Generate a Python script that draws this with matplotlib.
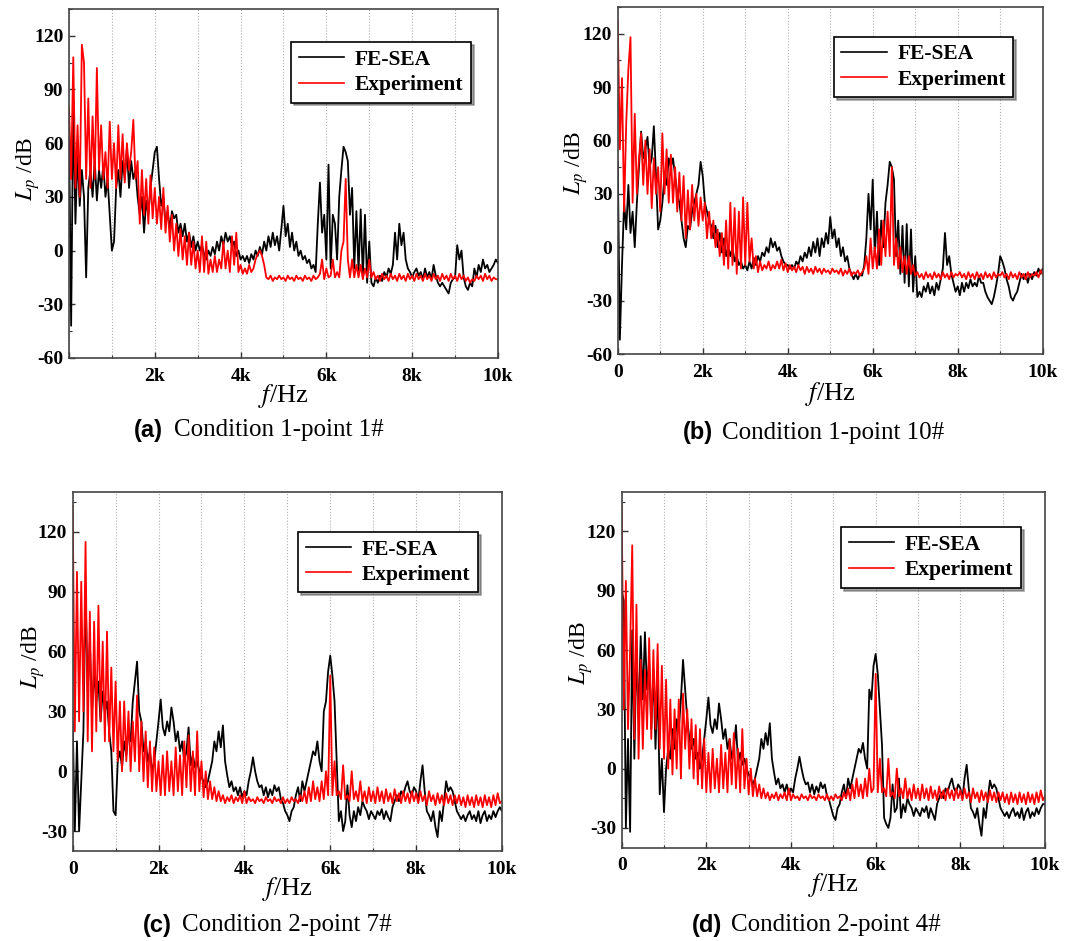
import numpy as np
import matplotlib
matplotlib.use("Agg")
import matplotlib.pyplot as plt
from matplotlib.ticker import MultipleLocator

plt.rcParams['font.family'] = ['Liberation Serif', 'DejaVu Serif']
plt.rcParams['mathtext.fontset'] = 'stix'
plt.rcParams['axes.unicode_minus'] = False

# frequency sampling of the read-off spectra (Hz), one value every 50 Hz
freq = np.arange(0, 10001, 50)

# (a) Condition 1-point 1#
fe_a = [70, -42, 85, 15, 55, 25, 45, 30, -15, 35, 45, 30, 50, 28, 45, 35, 48, 30, 40, 20,
        0, 5, 35, 45, 30, 50, 40, 57, 35, 50, 40, 45, 30, 20, 30, 10, 28, 20, 35, 45,
        55, 58, 40, 25, 30, 15, 22, 12, 22, 18, 20, 10, 15, 8, 15, 5, 10, 2, 8, 0,
        5, 0, 3, -2, -5, 0, -3, 2, -2, 5, 0, 8, 3, 10, 5, 8, 2, 5, -3, 0,
        -5, -3, -6, -3, -7, -2, -5, 0, -3, 2, -2, 5, 0, 8, 2, 10, 3, 8, 0, 12,
        25, 8, 15, 2, 10, 0, 5, -3, 0, -5, -3, -7, -5, -10, -8, -12, 15, 38, 10, 20,
        -5, 48, -10, 20, 15, -5, 30, 45, 58, 55, 50, 20, 35, -10, 22, -12, 23, -15, 20, -18,
        5, -18, -20, -15, -18, -14, -17, -12, -15, -10, -13, -8, 10, -5, 15, 3, 10, -5, -10, -12,
        -15, -12, -10, -14, -12, -16, -10, -15, -12, -16, -8, -14, -18, -20, -18, -20, -22, -24, -18, -16,
        -15, 3, -5, 0, -15, -20, -22, -18, -20, -10, -15, -8, -12, -5, -10, -8, -12, -10, -8, -5,
        -7]
ex_a = [80, 40, 108, 35, 70, 30, 115, 105, 40, 85, 35, 75, 40, 102, 45, 70, 40, 55, 35, 72,
        40, 60, 35, 70, 40, 65, 38, 60, 45, 55, 73, 40, 50, 15, 45, 20, 40, 15, 42, 18,
        35, 15, 30, 12, 35, 10, 25, 5, 20, 0, 15, -3, 12, -5, 8, -8, 10, -8, 5, -10,
        0, -12, 8, -12, 5, -13, -5, -12, -3, -12, -5, -10, 5, -10, 0, -12, 8, -8, 10, -12,
        -8, -13, -10, -13, -8, -12, -10, -5, -2, 0, -3, -8, -15, -16, -14, -17, -15, -16, -14, -16,
        -15, -17, -14, -16, -15, -17, -14, -16, -15, -17, -14, -16, -15, -17, -14, -16, -15, -13, -5, -16,
        -10, -15, -14, -5, -15, -12, -15, 0, 5, 40, -5, -15, -5, -15, -8, -15, -8, -16, -10, -15,
        -5, -15, -12, -16, -14, -17, -13, -16, -14, -17, -13, -16, -14, -17, -13, -16, -14, -17, -13, -16,
        -14, -17, -13, -16, -14, -17, -13, -16, -14, -17, -13, -16, -14, -17, -13, -16, -14, -17, -13, -16,
        -14, -17, -13, -16, -14, -17, -15, -18, -16, -17, -14, -16, -14, -17, -13, -16, -14, -17, -15, -16,
        -16]

# (b) Condition 1-point 10#
fe_b = [48, -52, -10, 25, 10, 35, 8, 20, 0, 25, 45, 65, 50, 55, 62, 45, 50, 68, 40, 10,
        15, 25, 40, 35, 50, 45, 50, 40, 30, 25, 15, 5, 0, 12, 10, 20, 25, 30, 35, 48,
        40, 25, 20, 15, 12, 5, 12, 0, 8, -3, 5, -5, 0, -5, 0, -8, -5, -10, -8, -12,
        -10, -13, -8, -12, -6, -10, -5, -8, -3, -5, 0, -3, 5, 0, 3, -2, 0, -5, -8, -10,
        -10, -12, -10, -12, -8, -10, -5, -8, -3, -6, 0, -5, 3, -3, 5, -5, 5, 0, 8, 2,
        17, 5, 10, 0, 5, -5, 0, -8, -5, -12, -15, -18, -15, -18, -15, -16, -10, 5, 30, 10,
        38, -5, 20, -10, 15, 0, 25, 35, 48, 45, 38, -5, 15, -15, 12, -20, 13, -22, 10, -25,
        -5, -28, -25, -28, -22, -25, -20, -26, -22, -27, -20, -24, -18, -12, 8, -10, -5, -15, -20, -25,
        -22, -27, -20, -25, -20, -23, -18, -22, -20, -22, -16, -20, -20, -25, -28, -30, -32, -28, -22, -15,
        -5, -8, -12, -18, -22, -28, -30, -27, -25, -20, -15, -18, -15, -20, -15, -18, -14, -16, -12, -15,
        -12]
ex_b = [127, 55, 95, 20, 70, 100, 118, 25, 75, 30, 50, 64, 35, 60, 30, 55, 22, 50, 30, 45,
        20, 64, 30, 55, 25, 52, 25, 45, 20, 42, 15, 40, 5, 32, 10, 35, 15, 30, 12, 28,
        15, 25, 5, 20, 5, 15, 0, 10, -5, 8, -10, 15, -12, 25, -10, 22, -15, 20, -12, 28,
        -10, 25, -8, 5, -12, -5, -14, -8, -13, -10, -12, -8, -13, -10, -12, -8, -12, -7, -13, -9,
        -14, -10, -13, -11, -14, -10, -13, -11, -15, -11, -14, -12, -15, -11, -14, -12, -15, -12, -14, -13,
        -15, -12, -14, -13, -15, -12, -16, -13, -15, -12, -16, -14, -15, -13, -16, -14, -12, -5, -15, 5,
        -12, 0, -12, 10, -10, 15, -5, 20, -5, 45, -10, 5, -12, 0, -14, -5, -15, -5, -15, -10,
        -16, -14, -17, -15, -18, -14, -17, -15, -18, -14, -17, -15, -18, -14, -17, -15, -18, -14, -17, -15,
        -16, -14, -17, -15, -18, -14, -17, -15, -18, -14, -17, -15, -18, -14, -17, -15, -18, -14, -17, -15,
        -16, -14, -17, -15, -18, -14, -17, -15, -18, -14, -17, -15, -18, -14, -17, -15, -16, -14, -17, -13,
        -15]

# (c) Condition 2-point 7#
fe_c = [25, -30, 15, -30, -5, 20, 90, 40, 65, 30, 50, 35, 45, 25, 40, 30, 35, 20, 10, -20,
        -22, 5, 10, 2, 15, 8, 20, 15, 35, 45, 55, 30, 25, 10, 15, 5, 10, 0, 5, 15,
        25, 36, 22, 18, 25, 20, 32, 25, 15, 20, 10, 15, 5, 10, 22, 3, 8, 2, 5, 0,
        -3, -5, -8, -5, 0, 5, 15, 10, 20, 12, 23, 5, -2, -8, -5, -10, -8, -12, -8, -13,
        -10, -12, -5, 0, 7, 0, -5, -8, -7, -12, -8, -13, -9, -12, -7, -10, -8, -14, -16, -20,
        -22, -25, -20, -18, -12, -8, -15, -5, -10, -5, 0, 5, 10, 8, 15, 5, 0, 30, 35, 50,
        58, 48, 35, 5, -25, -20, -30, -25, -7, -22, -28, -20, -25, -18, -22, -15, -18, -20, -24, -20,
        -22, -24, -20, -22, -19, -24, -20, -23, -25, -18, -15, -12, -15, -10, -12, -8, -5, -10, -12, -8,
        -10, -15, -5, 3, -10, -20, -22, -25, -20, -28, -33, -20, -25, -15, -5, -10, -8, -10, -15, -20,
        -22, -24, -22, -25, -22, -20, -24, -22, -25, -20, -26, -22, -20, -25, -22, -24, -20, -23, -20, -18,
        -20]
ex_c = [133, 20, 100, 25, 95, 30, 115, 15, 80, 10, 75, 20, 83, 25, 65, 15, 70, 15, 52, 10,
        45, 5, 35, 0, 35, 5, 30, 0, 25, 5, 38, 0, 25, -5, 20, -8, 15, -10, 12, -10,
        5, -12, 8, -12, 10, -10, 5, -12, 12, -10, 8, -12, 15, -8, 18, -10, 10, -12, 20, -10,
        5, -13, 0, -14, -5, -14, -8, -15, -10, -15, -12, -16, -13, -15, -12, -16, -13, -15, -12, -16,
        -10, -16, -13, -15, -14, -16, -13, -15, -14, -16, -13, -15, -14, -16, -13, -15, -14, -16, -13, -16,
        -14, -16, -13, -15, -14, -16, -12, -15, -10, -16, -8, -15, -5, -14, -8, -15, -5, -14, 0, -12,
        48, -12, 5, -12, -10, -14, 3, -14, -12, -15, 0, -14, -10, -15, -5, -15, -10, -16, -8, -15,
        -10, -16, -8, -15, -10, -16, -9, -15, -11, -16, -9, -15, -11, -16, -10, -15, -11, -16, -10, -15,
        -11, -16, -10, -15, -12, -17, -10, -15, -12, -17, -11, -16, -12, -17, -11, -16, -12, -17, -12, -16,
        -12, -17, -13, -18, -12, -17, -13, -18, -12, -17, -13, -18, -12, -17, -13, -18, -12, -17, -11, -16,
        -15]

# (d) Condition 2-point 4#
fe_d = [90, 85, -30, 15, -32, 70, 5, 60, 25, 67, 35, 69, 40, 55, 20, 50, 10, 45, -13, 5,
        -22, 0, 10, 5, 20, 10, 25, 20, 35, 55, 40, 25, 15, 10, 15, 5, 8, 0, 5, 15,
        25, 36, 22, 18, 25, 20, 33, 25, 15, 20, 10, 15, 5, 10, 22, 3, 8, 2, 5, 0,
        -3, -5, -8, -5, 0, 5, 15, 10, 18, 12, 23, 5, -2, -8, -5, -10, -8, -12, -8, -13,
        -10, -12, -5, 0, 6, 0, -5, -8, -7, -12, -8, -13, -9, -12, -7, -10, -8, -14, -16, -20,
        -24, -26, -20, -18, -12, -8, -15, -5, -10, -5, 0, 5, 10, 8, 13, 5, 0, 40, 35, 52,
        58, 48, 30, 12, -25, -28, -30, -25, -8, -22, -20, -5, -25, -18, -22, -15, -18, -20, -24, -20,
        -22, -24, -20, -22, -19, -25, -20, -23, -26, -18, -15, -12, -15, -10, -12, -8, -5, -10, -12, -8,
        -10, -15, -5, 2, -10, -20, -22, -25, -20, -28, -34, -20, -25, -15, -6, -10, -8, -10, -15, -20,
        -22, -24, -22, -25, -22, -20, -24, -22, -25, -20, -26, -22, -20, -25, -22, -24, -20, -23, -20, -18,
        -18]
ex_d = [133, 30, 95, 20, 60, 113, 15, 83, 5, 55, 10, 50, 20, 66, 15, 60, 20, 63, 10, 52,
        5, 45, 0, 35, -3, 30, 0, 35, -5, 38, 10, 30, 0, 25, -5, 22, -8, 20, -10, 15,
        -12, 8, -12, 10, -10, 5, -12, 12, -10, 8, -12, 15, -8, 18, -10, 10, -12, 20, -10, 5,
        -13, 0, -14, -5, -14, -8, -15, -10, -15, -12, -16, -13, -15, -12, -16, -13, -15, -12, -16, -10,
        -16, -13, -15, -14, -16, -13, -15, -14, -16, -13, -15, -14, -16, -13, -15, -14, -16, -13, -16, -14,
        -16, -13, -15, -14, -16, -12, -15, -10, -16, -8, -15, -5, -14, -8, -15, -5, -14, 0, -12, -10,
        48, -12, 5, -12, -10, -14, 5, -14, -12, -15, 0, -14, -10, -15, -5, -15, -10, -16, -8, -15,
        -10, -16, -8, -15, -10, -16, -9, -15, -11, -16, -9, -15, -11, -16, -10, -15, -11, -16, -10, -15,
        -11, -16, -10, -15, -12, -17, -10, -15, -12, -17, -11, -16, -12, -17, -11, -16, -12, -17, -12, -16,
        -12, -17, -13, -18, -12, -17, -13, -18, -12, -17, -13, -18, -12, -17, -13, -18, -12, -17, -11, -16,
        -14]

letters = ['(a)', '(b)', '(c)', '(d)']
captions = ['Condition 1-point 1#', 'Condition 1-point 10#',
            'Condition 2-point 7#', 'Condition 2-point 4#']
xtick_labels = ['0', '2k', '4k', '6k', '8k', '10k']

fig = plt.figure(figsize=(10.83, 9.41), dpi=100)

# axes boxes in figure fractions
boxes = [[0.0637, 0.6196, 0.3961, 0.3709],
         [0.5704, 0.6238, 0.3924, 0.3688],
         [0.0671, 0.0956, 0.3964, 0.3815],
         [0.5740, 0.0992, 0.3909, 0.3780]]
ylims = [(-60, 135), (-60, 135), (-40, 140), (-40, 140)]
yticks = [np.arange(-60, 121, 30), np.arange(-60, 121, 30),
          np.arange(-30, 121, 30), np.arange(-30, 121, 30)]
leg_anchor = [(0.937, 0.905), (0.931, 0.914), (0.944, 0.889), (0.943, 0.901)]
ylab_pos = [(-0.063, 0.54), (-0.065, 0.55), (-0.060, 0.54), (-0.062, 0.547)]
xlab_pos = [-0.07, -0.075, -0.067, -0.067]
cap_pos = [(0.150, 0.161, 0.543), (0.658, 0.667, 0.540),
           (0.159, 0.168, 0.017), (0.667, 0.675, 0.017)]

data = [(fe_a, ex_a), (fe_b, ex_b), (fe_c, ex_c), (fe_d, ex_d)]

for i in range(4):
    ax = fig.add_axes(boxes[i])
    fe, ex = data[i]
    ax.plot(freq, fe, color='black', lw=1.3, label='FE-SEA')
    ax.plot(freq, ex, color='#ff0000', lw=1.3, label='Experiment')

    ax.set_xlim(0, 10000)
    ax.set_ylim(*ylims[i])
    ax.set_xticks(np.arange(0, 10001, 2000))
    labs = list(xtick_labels)
    if i == 0:
        labs[0] = ''
    ax.set_xticklabels(labs)
    ax.xaxis.set_minor_locator(MultipleLocator(1000))
    ax.set_yticks(yticks[i])
    ax.yaxis.set_minor_locator(MultipleLocator(15))
    ax.tick_params(which='both', direction='in', top=False, right=False, color='#333333')
    ax.tick_params(which='major', length=4, width=1.0, labelsize=14)
    ax.tick_params(which='minor', length=2.5, width=0.8)
    ax.tick_params(axis='x', pad=7)
    ax.tick_params(axis='y', pad=4)
    for lab in ax.get_xticklabels() + ax.get_yticklabels():
        lab.set_fontweight('bold')
    ax.grid(axis='x', which='both', linestyle=':', color='#b0b0b0', lw=0.8)
    for sp in ax.spines.values():
        sp.set_color('#444444')
        sp.set_linewidth(1.2)

    ax.set_ylabel(r'$L_p$ /dB', fontsize=17)
    ax.yaxis.set_label_coords(*ylab_pos[i])
    ax.set_xlabel(r'$f$/Hz', fontsize=19)
    ax.xaxis.set_label_coords(0.5, xlab_pos[i])

    leg = ax.legend(loc='upper right', bbox_to_anchor=leg_anchor[i], borderaxespad=0,
                    frameon=True, fancybox=False, shadow=True, edgecolor='black',
                    handlelength=2.1, borderpad=0.35, labelspacing=0.25, handletextpad=0.5,
                    prop={'family': 'Liberation Serif', 'weight': 'bold', 'size': 15.5})
    leg.get_frame().set_linewidth(1.2)
    for line in leg.get_lines():
        line.set_linewidth(1.2)

    xl, xc, yc = cap_pos[i]
    fig.text(xl, yc, letters[i], ha='right', va='center', fontsize=17,
             fontweight='bold', family='Liberation Sans')
    fig.text(xc, yc, captions[i], ha='left', va='center', fontsize=18,
             family='Liberation Serif')

plt.savefig('out.png', dpi=100)
